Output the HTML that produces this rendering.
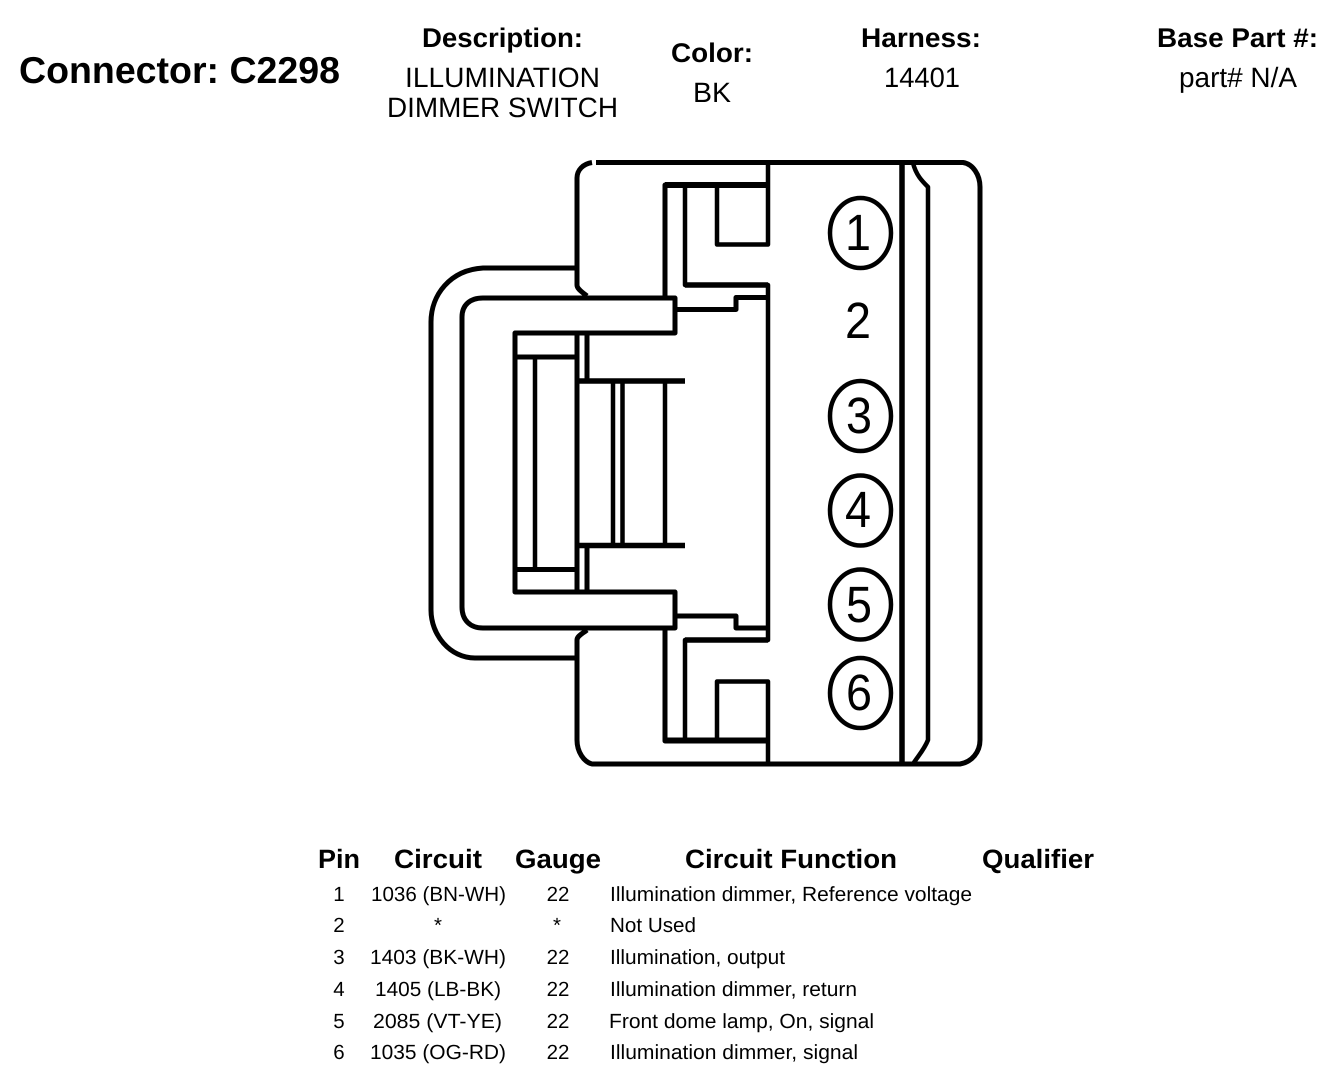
<!DOCTYPE html>
<html>
<head>
<meta charset="utf-8">
<style>
html,body{margin:0;padding:0;background:#fff;width:1344px;height:1090px;overflow:hidden}
svg{display:block}
text{font-family:"Liberation Sans",Arial,sans-serif;fill:#000;text-rendering:geometricPrecision}
.b{font-weight:bold}
.h{font-size:27px}
.r{font-size:28px}
.t{font-size:20.5px}
.g{font-size:26.5px;font-weight:bold}
.d{font-size:51px}
</style>
</head>
<body>
<svg width="1344" height="1090" viewBox="0 0 1344 1090" xmlns="http://www.w3.org/2000/svg">
<rect width="1344" height="1090" fill="#fff"/>

<g fill="none" stroke="#000" stroke-width="5" stroke-linejoin="round">
  <!-- outer housing -->
  <path d="M596,162.5 H963 C973,164 980,175 980,187 V740 C980,752 972,762 960,764 H592 C584,762 577,752 577,740 V640 C577,636 582,634 587,630"/>
  <path d="M592,162.5 C583,164 577,170 577,178 V285 C577,289 582,292 587,296"/>
  <!-- strap -->
  <path d="M577,268 H483 C450,270 431,295 431,322 V610 C431,635 450,658 475,658 H577"/>
  <path d="M515,592 V333 H675 V298 H483 C470,298 462,305 462,317 V607 C462,620 470,628 483,628 H675 V592 H515 Z"/>
  <path d="M515,357 H577 M515,569.5 H577" stroke-width="5"/>
  <path d="M535,357 V569" stroke-width="4.5"/>
  <path d="M577,333 V592" stroke-width="5"/>
  <path d="M587,333 V381 M587,545 V592" stroke-width="5"/>
  <path d="M577,381 H685 M577,545.5 H685" stroke-width="5.5"/>
  <path d="M613,381 V545 M622.5,381 V545 M665,381 V545" stroke-width="4.5"/>
  <!-- upper inner frame -->
  <path d="M665,298 V185 H768" stroke-width="5"/>
  <path d="M665,185 H768" stroke-width="6"/>
  <path d="M685,185 V285 H768 V640 H685 V741" stroke-width="4.5"/>
  <path d="M685,285 H768 M685,640 H768" stroke-width="5.5"/>
  <path d="M768,162 V244.5 H717 V185" stroke-width="4.5"/>
  <path d="M675,309.5 H736 V297.5 H768" stroke-width="5"/>
  <path d="M675,616 H736 V628 H768" stroke-width="5"/>
  <!-- lower inner frame -->
  <path d="M665,628 V741 H768" stroke-width="5"/>
  <path d="M665,740.5 H768" stroke-width="6"/>
  <path d="M768,764 V681.5 H717 V741" stroke-width="4.5"/>
  <!-- right bars -->
  <path d="M902,162 V764" stroke-width="5.5"/>
  <path d="M913,163 C916,175 922,181 928,187 V740 C924,750 918,756 913,764" stroke-width="4.5"/>
  <!-- pin circles -->
  <ellipse cx="860.5" cy="233" rx="30.5" ry="35" stroke-width="4.5"/>
  <ellipse cx="860.5" cy="416" rx="30.5" ry="35" stroke-width="4.5"/>
  <ellipse cx="860.5" cy="510.5" rx="30.5" ry="35" stroke-width="4.5"/>
  <ellipse cx="860.5" cy="604.5" rx="30.5" ry="35" stroke-width="4.5"/>
  <ellipse cx="860.5" cy="693" rx="30.5" ry="35" stroke-width="4.5"/>
</g>

<!-- pin digits -->
<text class="d" x="845" y="250" textLength="26" lengthAdjust="spacingAndGlyphs">1</text>
<text class="d" x="845" y="338" textLength="26" lengthAdjust="spacingAndGlyphs">2</text>
<text class="d" x="846" y="433" textLength="26" lengthAdjust="spacingAndGlyphs">3</text>
<text class="d" x="845" y="527" textLength="26" lengthAdjust="spacingAndGlyphs">4</text>
<text class="d" x="846" y="622" textLength="26" lengthAdjust="spacingAndGlyphs">5</text>
<text class="d" x="846" y="710" textLength="26" lengthAdjust="spacingAndGlyphs">6</text>

<!-- header -->
<text class="b" style="font-size:37.5px" x="19" y="83" textLength="321" lengthAdjust="spacingAndGlyphs">Connector: C2298</text>
<text class="b h" x="422" y="47" textLength="161" lengthAdjust="spacingAndGlyphs">Description:</text>
<text class="r" x="405" y="87" textLength="195" lengthAdjust="spacingAndGlyphs">ILLUMINATION</text>
<text class="r" x="387" y="117" textLength="231" lengthAdjust="spacingAndGlyphs">DIMMER SWITCH</text>
<text class="b h" x="671" y="62" textLength="82" lengthAdjust="spacingAndGlyphs">Color:</text>
<text class="r" x="693" y="102" textLength="38" lengthAdjust="spacingAndGlyphs">BK</text>
<text class="b h" x="861" y="47" textLength="120" lengthAdjust="spacingAndGlyphs">Harness:</text>
<text class="r" x="884" y="87" textLength="76" lengthAdjust="spacingAndGlyphs">14401</text>
<text class="b h" x="1157" y="47" textLength="161" lengthAdjust="spacingAndGlyphs">Base Part #:</text>
<text class="r" x="1179" y="87" textLength="118" lengthAdjust="spacingAndGlyphs">part# N/A</text>

<!-- table headers -->
<text class="g" x="318" y="868" textLength="42" lengthAdjust="spacingAndGlyphs">Pin</text>
<text class="g" x="394" y="868" textLength="88" lengthAdjust="spacingAndGlyphs">Circuit</text>
<text class="g" x="515" y="868" textLength="86" lengthAdjust="spacingAndGlyphs">Gauge</text>
<text class="g" x="685" y="868" textLength="212" lengthAdjust="spacingAndGlyphs">Circuit Function</text>
<text class="g" x="982" y="868" textLength="112" lengthAdjust="spacingAndGlyphs">Qualifier</text>

<!-- table rows -->
<g class="t">
<text class="t" x="339" y="901" text-anchor="middle">1</text>
<text class="t" x="371" y="901" textLength="135" lengthAdjust="spacingAndGlyphs">1036 (BN-WH)</text>
<text class="t" x="558" y="901" text-anchor="middle">22</text>
<text class="t" x="610" y="901" textLength="362" lengthAdjust="spacingAndGlyphs">Illumination dimmer, Reference voltage</text>

<text class="t" x="339" y="932" text-anchor="middle">2</text>
<text class="t" x="438" y="932" text-anchor="middle">*</text>
<text class="t" x="557" y="932" text-anchor="middle">*</text>
<text class="t" x="610" y="932" textLength="86" lengthAdjust="spacingAndGlyphs">Not Used</text>

<text class="t" x="339" y="964" text-anchor="middle">3</text>
<text class="t" x="370" y="964" textLength="136" lengthAdjust="spacingAndGlyphs">1403 (BK-WH)</text>
<text class="t" x="558" y="964" text-anchor="middle">22</text>
<text class="t" x="610" y="964" textLength="175" lengthAdjust="spacingAndGlyphs">Illumination, output</text>

<text class="t" x="339" y="996" text-anchor="middle">4</text>
<text class="t" x="375" y="996" textLength="126" lengthAdjust="spacingAndGlyphs">1405 (LB-BK)</text>
<text class="t" x="558" y="996" text-anchor="middle">22</text>
<text class="t" x="610" y="996" textLength="247" lengthAdjust="spacingAndGlyphs">Illumination dimmer, return</text>

<text class="t" x="339" y="1028" text-anchor="middle">5</text>
<text class="t" x="373" y="1028" textLength="129" lengthAdjust="spacingAndGlyphs">2085 (VT-YE)</text>
<text class="t" x="558" y="1028" text-anchor="middle">22</text>
<text class="t" x="609" y="1028" textLength="265" lengthAdjust="spacingAndGlyphs">Front dome lamp, On, signal</text>

<text class="t" x="339" y="1059" text-anchor="middle">6</text>
<text class="t" x="370" y="1059" textLength="136" lengthAdjust="spacingAndGlyphs">1035 (OG-RD)</text>
<text class="t" x="558" y="1059" text-anchor="middle">22</text>
<text class="t" x="610" y="1059" textLength="248" lengthAdjust="spacingAndGlyphs">Illumination dimmer, signal</text>
</g>
</svg>
</body>
</html>
